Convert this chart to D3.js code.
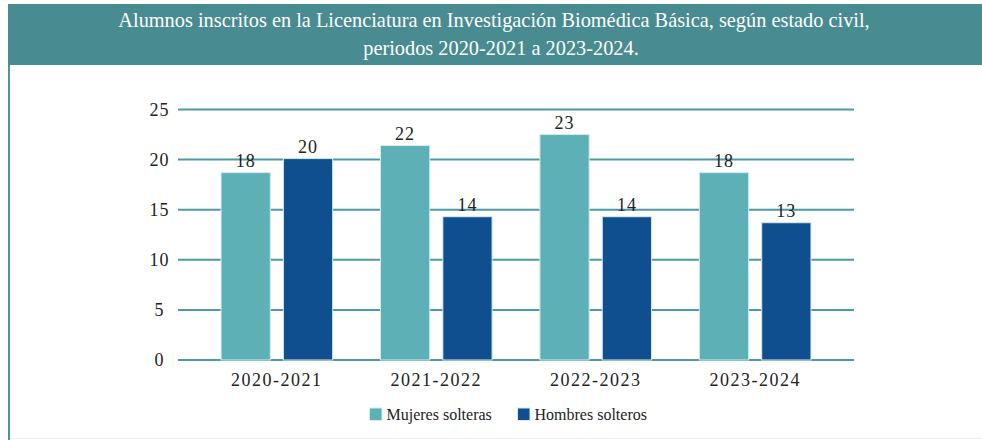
<!DOCTYPE html>
<html>
<head>
<meta charset="utf-8">
<script src="https://cdn.jsdelivr.net/npm/d3@7"></script>
<style>
  html, body { margin: 0; padding: 0; background: #fff; }
  svg { display: block; }
</style>
</head>
<body>
<div id="chart"></div>
<script>
// periods on the x axis
const periods = ['2020-2021', '2021-2022', '2022-2023', '2023-2024'];
const seriesNames = ['Mujeres solteras', 'Hombres solteros'];
// bar heights as drawn in the picture
const mujeres = [18.7, 21.4, 22.5, 18.7];
const hombres = [20.1, 14.3, 14.3, 13.7];
// value labels printed above the bars
const mujeresLabels = ['18', '22', '23', '18'];
const hombresLabels = ['20', '14', '14', '13'];
const yTicks = [0, 5, 10, 15, 20, 25];
const titleLines = [
  'Alumnos inscritos en la Licenciatura en Investigación Biomédica Básica, según estado civil,',
  'periodos 2020-2021 a 2023-2024.',
];

const colors = { 'Mujeres solteras': '#5eb0b7', 'Hombres solteros': '#0f4e8f' };
const width = 982;
const height = 440;
const serif = "'Liberation Serif', 'DejaVu Serif', serif";

const rows = periods.map((p, i) => ({
  period: p,
  values: [
    { key: seriesNames[0], value: mujeres[i], label: mujeresLabels[i] },
    { key: seriesNames[1], value: hombres[i], label: hombresLabels[i] },
  ],
}));

const svg = d3.select('#chart')
  .append('svg')
  .attr('width', width)
  .attr('height', height);

// title band + left frame
svg.append('rect')
  .attr('x', 8).attr('y', 4)
  .attr('width', width - 8).attr('height', 61)
  .attr('fill', '#488b90');
svg.append('rect')
  .attr('x', 8).attr('y', 65)
  .attr('width', 2).attr('height', height - 65)
  .attr('fill', '#4f9398');
svg.append('line')
  .attr('x1', 10).attr('x2', width)
  .attr('y1', 438.5).attr('y2', 438.5)
  .attr('stroke', '#eeeeee');

const title = svg.append('g')
  .attr('font-family', serif)
  .attr('fill', '#ffffff')
  .attr('text-anchor', 'middle');
const t1 = title.append('text')
  .attr('x', 494).attr('y', 27)
  .attr('font-size', 19)
  .text(titleLines[0]);
// fit first line to the width it has in the picture
const len = t1.node().getComputedTextLength();
const fs = 19 * 752 / len;
t1.attr('font-size', fs);
title.append('text')
  .attr('x', 501).attr('y', 55)
  .attr('font-size', fs)
  .text(titleLines[1]);

const margin = { left: 178, right: 128, top: 109.5, bottom: 80 };
const plotW = width - margin.left - margin.right;

const x0 = d3.scaleBand()
  .domain(periods)
  .range([margin.left, margin.left + plotW])
  .paddingInner(0.3)
  .paddingOuter(0.27);
const x1 = d3.scaleBand()
  .domain(seriesNames)
  .range([0, x0.bandwidth()])
  .paddingInner(0.21)
  .paddingOuter(0);
const y = d3.scaleLinear()
  .domain([0, 25])
  .range([360, margin.top]);

// gridlines
svg.append('g')
  .selectAll('line')
  .data(yTicks)
  .join('line')
  .attr('x1', margin.left)
  .attr('x2', margin.left + plotW)
  .attr('y1', (d) => y(d))
  .attr('y2', (d) => y(d))
  .attr('stroke', '#4d9ba1')
  .attr('stroke-width', 2);

// y tick labels (centred in the picture)
svg.append('g')
  .selectAll('text')
  .data(yTicks)
  .join('text')
  .attr('x', 159.5)
  .attr('y', (d) => y(d))
  .attr('dy', '0.34em')
  .attr('text-anchor', 'middle')
  .attr('font-family', serif)
  .attr('font-size', 18)
  .attr('letter-spacing', 1)
  .attr('fill', '#222')
  .text((d) => d);

const groups = svg.append('g')
  .selectAll('g')
  .data(rows)
  .join('g')
  .attr('transform', (d) => `translate(${x0(d.period)},0)`);

groups.selectAll('rect')
  .data((d) => d.values)
  .join('rect')
  .attr('x', (d) => x1(d.key))
  .attr('y', (d) => y(d.value))
  .attr('width', x1.bandwidth())
  .attr('height', (d) => y(0) - y(d.value))
  .attr('fill', (d) => colors[d.key])
  .attr('stroke', '#d4ecef')
  .attr('stroke-width', 1);

groups.selectAll('text')
  .data((d) => d.values)
  .join('text')
  .attr('x', (d) => x1(d.key) + x1.bandwidth() / 2)
  .attr('y', (d) => y(d.value) - 6)
  .attr('text-anchor', 'middle')
  .attr('font-family', serif)
  .attr('font-size', 18)
  .attr('letter-spacing', 1)
  .attr('fill', '#222')
  .text((d) => d.label);

// x axis labels
svg.append('g')
  .selectAll('text')
  .data(periods)
  .join('text')
  .attr('x', (d) => x0(d) + x0.bandwidth() / 2)
  .attr('y', 386)
  .attr('text-anchor', 'middle')
  .attr('font-family', serif)
  .attr('font-size', 18)
  .attr('letter-spacing', 1.5)
  .attr('fill', '#222')
  .text((d) => d);

// legend
const legendX = [369.5, 517.5];
const legend = svg.append('g')
  .selectAll('g')
  .data(seriesNames)
  .join('g')
  .attr('transform', (d, i) => `translate(${legendX[i]},408)`);
legend.append('rect')
  .attr('width', 12.5)
  .attr('height', 12.5)
  .attr('fill', (d) => colors[d])
  .attr('stroke', '#d4ecef')
  .attr('stroke-width', 1);
legend.append('text')
  .attr('x', 17)
  .attr('y', 11.5)
  .attr('font-family', serif)
  .attr('font-size', 16)
  .attr('fill', '#222')
  .text((d) => d);
</script>
</body>
</html>
